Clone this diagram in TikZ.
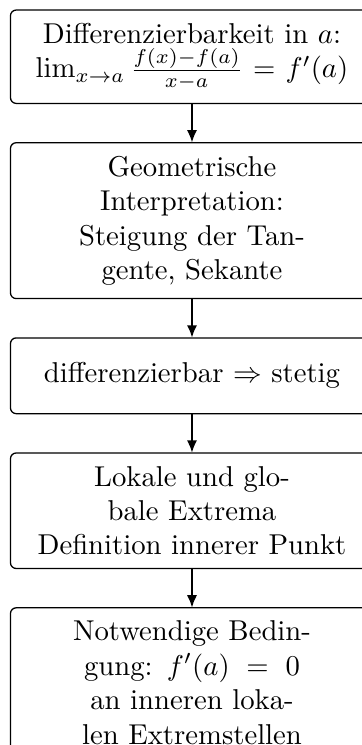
\documentclass[tikz,border=0pt]{standalone}
\usepackage{amssymb}
\usetikzlibrary{arrows.meta,positioning}
\hyphenation{Tan-gente glo-bale Bedin-gung loka-len}
\tikzset{
  stepbox/.style={text width=119.5pt, inner xsep=3.3pt, inner ysep=4.4pt,
                  minimum height=26pt, align=center},
  frame/.style={draw, rounded corners=2pt, line width=0.45pt},
  flow/.style={-{Latex[length=4.4pt,width=3.6pt]}, line width=0.85pt},
}

\begin{document}
\begin{tikzpicture}
  \useasboundingbox (0,0) rectangle (126.1pt,-259.6pt);
  \clip (0,0) rectangle (126.1pt,-259.6pt);
  \def\gapy{13.7pt}
  \node[stepbox, anchor=north] (k0) at (66.9pt,-3.5pt)
    {Differenzierbarkeit in $a$:\\ $\lim_{x\to a}\frac{f(x)-f(a)}{x-a} = f'(a)$};
  \node[stepbox, below=\gapy of k0] (k1)
    {Geometrische Interpretation:\\ Steigung der Tangente, Sekante};
  \node[stepbox, below=\gapy of k1] (k2)
    {differenzierbar $\Rightarrow$ stetig};
  \node[stepbox, below=\gapy of k2] (k3)
    {Lokale und globale Extrema\\ Definition innerer Punkt};
  \node[stepbox, below=\gapy of k3] (k4)
    {Notwendige Bedingung: $f'(a) = 0$\\ an inneren lokalen Extremstellen};

  % frames run on past the right edge
  \foreach \n in {k0,k1,k2,k3,k4}{\draw[frame] (\n.north west) rectangle ([xshift=12pt]\n.south east);}
  \foreach \a/\b in {k0/k1,k1/k2,k2/k3,k3/k4}{\draw[flow] (\a) -- (\b);}
\end{tikzpicture}
\end{document}
